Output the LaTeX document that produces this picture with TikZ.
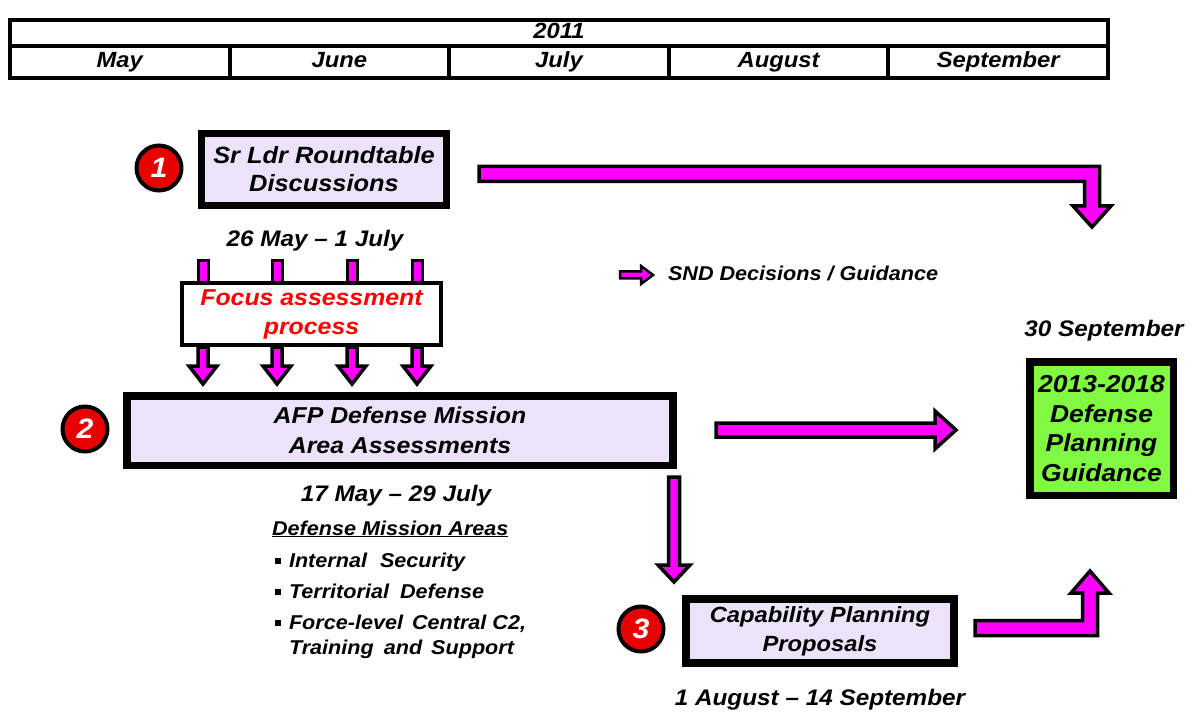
\documentclass[tikz,border=0pt]{standalone}
\usepackage{fontspec}
\setmainfont{Liberation Sans}[FakeStretch=1.08]
\usetikzlibrary{calc}
\definecolor{lav}{RGB}{236,226,250}
\definecolor{mag}{RGB}{255,0,255}
\definecolor{grn}{RGB}{128,250,64}
\definecolor{cred}{RGB}{232,0,0}
\definecolor{fred}{RGB}{255,0,0}
% down arrow: start, tip, half shaft, half head, head length
\newcommand\darr[5]{\draw[barrow] ($(#1)+(-#3,0)$) -- ($(#2)+(-#3,-#5)$) -- ($(#2)+(-#4,-#5)$) -- (#2) -- ($(#2)+(#4,-#5)$) -- ($(#2)+(#3,-#5)$) -- ($(#1)+(#3,0)$) -- cycle;}
% right arrow
\newcommand\harr[5]{\draw[barrow] ($(#1)+(0,-#3)$) -- ($(#2)+(-#5,-#3)$) -- ($(#2)+(-#5,-#4)$) -- (#2) -- ($(#2)+(-#5,#4)$) -- ($(#2)+(-#5,#3)$) -- ($(#1)+(0,#3)$) -- cycle;}
% right then down
\newcommand\rdarr[5]{\draw[barrow] ($(#1)+(0,-#3)$) -- ($(#1 -| #2)+(#3,-#3)$) -- ($(#2)+(#3,-#5)$) -- ($(#2)+(#4,-#5)$) -- (#2) -- ($(#2)+(-#4,-#5)$) -- ($(#2)+(-#3,-#5)$) -- ($(#1 -| #2)+(-#3,#3)$) -- ($(#1)+(0,#3)$) -- cycle;}
% right then up
\newcommand\ruarr[5]{\draw[barrow] ($(#1)+(0,#3)$) -- ($(#1 -| #2)+(#3,#3)$) -- ($(#2)+(#3,#5)$) -- ($(#2)+(#4,#5)$) -- (#2) -- ($(#2)+(-#4,#5)$) -- ($(#2)+(-#3,#5)$) -- ($(#1 -| #2)+(-#3,-#3)$) -- ($(#1)+(0,-#3)$) -- cycle;}
\tikzset{
 every node/.style={inner sep=0pt, outer sep=0pt},
 T/.style={font=\fontsize{22.5}{28}\selectfont\bfseries\itshape, align=center},
 cell/.style={draw, line width=4, font=\fontsize{22}{24}\selectfont\bfseries\itshape, text height=15.5, text depth=4.5},
 stage/.style={draw, line width=7.5, fill=lav, T},
 num/.style={circle, draw, line width=4, fill=cred, minimum size=45, text=white, font=\fontsize{28}{28}\selectfont\bfseries\itshape},
 barrow/.style={draw, line width=3.5, fill=mag, line join=miter},
 listf/.style={font=\fontsize{20}{25}\selectfont\bfseries\itshape, align=left},
}
\begin{document}
\begin{tikzpicture}[x=1pt,y=-1pt]
\useasboundingbox (0,0) rectangle (1199,719);
% header table
\node[cell, minimum width=1098, minimum height=26] (yr) at (559,33) {2011};
\node[cell, minimum width=219.6, minimum height=32] (may) at (119.8,62) {May};
\node[cell, minimum width=219.6, minimum height=32] (jun) at (339.4,62) {June};
\node[cell, minimum width=219.6, minimum height=32] (jul) at (559,62) {July};
\node[cell, minimum width=219.6, minimum height=32] (aug) at (778.6,62) {August};
\node[cell, minimum width=219.6, minimum height=32] (sep) at (998.2,62) {September};
% named points for the block arrows
\coordinate (a1s) at (479,174);
\coordinate (a1t) at (1092,227);
\coordinate (a2s) at (716,430);
\coordinate (a2t) at (956,430);
\coordinate (a3s) at (674,477);
\coordinate (a3t) at (674,582);
\coordinate (a4s) at (975,628);
\coordinate (a4t) at (1090,571);
\coordinate (lgs) at (620,275);
\coordinate (lgt) at (653,275);
% stubs into focus box
\foreach \x [count=\i] in {203,277,352,417}{
  \coordinate (fs\i) at (\x,261);
  \coordinate (fb\i) at (\x,347);
  \coordinate (ft\i) at (\x,384);
  \draw[barrow, line width=3] ($(fs\i)+(-5,0)$) rectangle ($(fs\i)+(5,24)$);
}
% stage boxes
\node[stage, minimum width=245, minimum height=72, font=\fontsize{23.5}{28}\selectfont\bfseries\itshape] (box1) at (324,169.5) {Sr Ldr Roundtable\\Discussions};
\node[draw, line width=4, fill=white, minimum width=259, minimum height=62, T, font=\fontsize{23}{29}\selectfont\bfseries\itshape, text=fred] (focus) at (311.5,314) {Focus assessment\\process};
\node[stage, minimum width=546, minimum height=69.5, font=\fontsize{23}{30}\selectfont\bfseries\itshape] (box2) at (400,430.5) {AFP Defense Mission\\Area Assessments};
\node[stage, minimum width=268, minimum height=64, font=\fontsize{22}{29}\selectfont\bfseries\itshape] (box3) at (820,631) {Capability Planning\\Proposals};
\node[draw, line width=7.5, fill=grn, minimum width=143.5, minimum height=133.5, T, font=\fontsize{24.5}{29.5}\selectfont\bfseries\itshape] (dpg) at (1101.5,428.5) {2013-2018\\Defense\\Planning\\Guidance};
% numbered circles
\node[num] (n1) at (159,168) {1};
\node[num] (n2) at (85,429) {2};
\node[num] (n3) at (641,629) {3};
% arrows below focus box
\foreach \i in {1,...,4}{\darr{fb\i}{ft\i}{5}{14}{18}}
% big block arrows
\rdarr{a1s}{a1t}{7.5}{19}{21}
\harr{a2s}{a2t}{7}{19}{21}
\darr{a3s}{a3t}{5.5}{16}{17}
\ruarr{a4s}{a4t}{7.5}{19}{22}
\begin{scope}[barrow/.append style={line width=2.5}]
\harr{lgs}{lgt}{3.5}{9}{12}
\end{scope}
% labels
\node[T] (d1) at (315,241) {26 May – 1 July};
\node[T] (d2) at (396,496) {17 May – 29 July};
\node[T] (d3) at (820,700) {1 August – 14 September};
\node[T] (d4) at (1104,331) {30 September};
\node[anchor=west, font=\fontsize{20}{22}\selectfont\bfseries\itshape] (leg) at (668,273) {SND Decisions / Guidance};
\node[listf, anchor=base west] (dma) at (272,535) {\underline{Defense Mission Areas}};
\node[listf, anchor=base west] (l1) at (289,567) {Internal\hspace{7pt} Security};
\node[listf, anchor=base west] (l2) at (289,598) {Territorial\hspace{5pt} Defense};
\node[listf, anchor=base west] (l3) at (289,629) {Force-level\hspace{3pt} Central C2,};
\node[listf, anchor=base west] (l4) at (289,654) {Training\hspace{4pt} and\hspace{3pt} Support};
\foreach \n in {l1,l2,l3}{\fill ($(\n.base west)+(-14,-9)$) rectangle ($(\n.base west)+(-8,-3)$);}
\end{tikzpicture}
\end{document}
